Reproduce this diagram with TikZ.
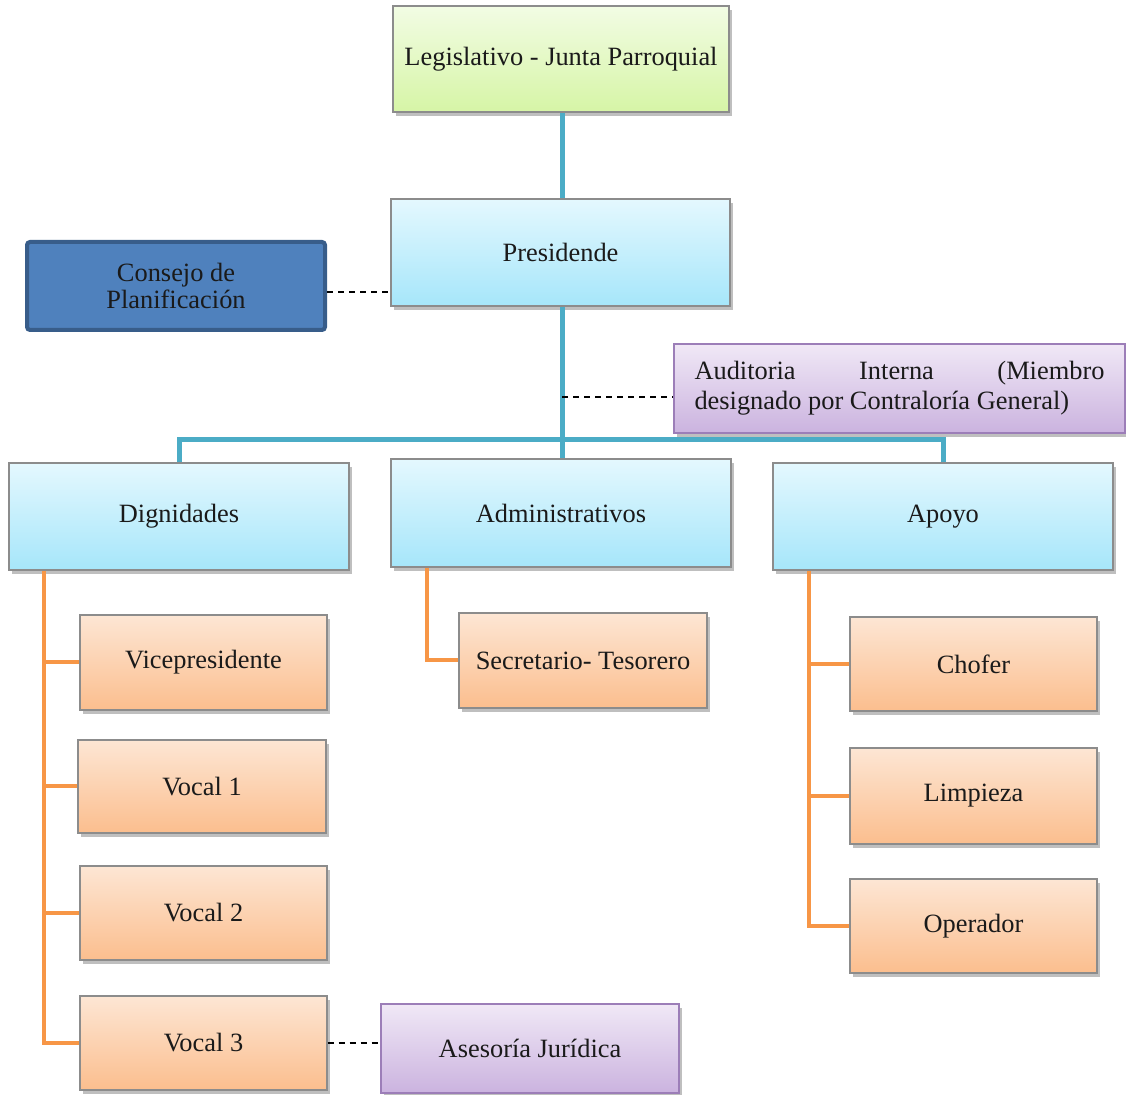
\documentclass[tikz,border=0pt]{standalone}
\usepackage{fontspec}
\setmainfont{Liberation Serif}
\usetikzlibrary{shadows}
\definecolor{linkblue}{HTML}{4BACC6}
\definecolor{linkorange}{HTML}{F79646}
\definecolor{boxgray}{HTML}{8C8C8C}
\definecolor{greentop}{HTML}{F2FCE4}
\definecolor{greenbot}{HTML}{D6F5A6}
\definecolor{bluetop}{HTML}{E4F8FE}
\definecolor{bluebot}{HTML}{A6E6FA}
\definecolor{orangetop}{HTML}{FDE6D4}
\definecolor{orangebot}{HTML}{FBBE8E}
\definecolor{purpletop}{HTML}{F0E8F6}
\definecolor{purplebot}{HTML}{CBB3DF}
\definecolor{purpleline}{HTML}{9C7EB8}
\definecolor{navyfill}{HTML}{4F81BD}
\definecolor{navyline}{HTML}{385D8A}
\definecolor{inktext}{HTML}{1A1A1A}
\tikzset{
  unitbox/.style={draw=boxgray, line width=0.6pt, align=center, inner sep=0pt,
    text=inktext, font=\fontsize{13.2pt}{15pt}\selectfont,
    drop shadow={shadow xshift=1.5pt, shadow yshift=-1.8pt, opacity=0.25, fill=black}},
  greenbox/.style={unitbox, top color=greentop, bottom color=greenbot},
  bluebox/.style={unitbox, top color=bluetop, bottom color=bluebot},
  orangebox/.style={unitbox, top color=orangetop, bottom color=orangebot},
  purplebox/.style={unitbox, draw=purpleline, top color=purpletop, bottom color=purplebot},
  navybox/.style={draw=navyline, line width=2pt, fill=navyfill, rounded corners=1.5pt,
    align=center, inner sep=0pt, text=inktext, font=\fontsize{13.2pt}{13.5pt}\selectfont},
  bluelink/.style={draw=linkblue, line width=2.5pt},
  orangelink/.style={draw=linkorange, line width=2pt},
  dashlink/.style={draw=black, line width=0.7pt, dash pattern=on 3pt off 2.5pt},
}
\begin{document}
\begin{tikzpicture}[x=0.5pt, y=-0.5pt]
\useasboundingbox (0,0) rectangle (1126,1095);

% upper levels
\node[greenbox, minimum width=168pt, minimum height=53pt] (leg) at (561,59) {Legislativo - Junta Parroquial};
\node[bluebox, minimum width=169.5pt, minimum height=53.5pt] (pres) at (560.5,252.5) {Presidende};
\node[navybox, minimum width=149pt, minimum height=44pt] (cons) at (176,286) {Consejo de\\Planificación};
\node[purplebox, minimum width=225.5pt, minimum height=44.5pt] (aud) at (899.5,388.5)
  {\parbox{205pt}{\hbox to 205pt{Auditoria\hfill Interna\hfill (Miembro}\hbox{designado por Contraloría General)}}};

% departments
\node[bluebox, minimum width=170pt, minimum height=53.5pt] (dig) at (179,516.5) {Dignidades};
\node[bluebox, minimum width=170pt, minimum height=54pt] (adm) at (561,513) {Administrativos};
\node[bluebox, minimum width=170pt, minimum height=53.5pt] (apo) at (943,516.5) {Apoyo};

% positions
\node[orangebox, minimum width=123.5pt, minimum height=47.5pt] (vice) at (203.5,662.5) {Vicepresidente};
\node[orangebox, minimum width=124pt, minimum height=46.5pt] (vA) at (202,786.5) {Vocal 1};
\node[orangebox, minimum width=123.5pt, minimum height=47pt] (vB) at (203.5,913) {Vocal 2};
\node[orangebox, minimum width=123.5pt, minimum height=47pt] (vC) at (203.5,1043) {Vocal 3};
\node[purplebox, minimum width=149pt, minimum height=44.5pt] (ases) at (530,1048.5) {Asesoría Jurídica};
\node[orangebox, minimum width=124pt, minimum height=47.5pt] (sec) at (583,660.5) {Secretario- Tesorero};
\node[orangebox, minimum width=123.5pt, minimum height=47pt] (chof) at (973.5,664) {Chofer};
\node[orangebox, minimum width=123.5pt, minimum height=48pt] (limp) at (973.5,796) {Limpieza};
\node[orangebox, minimum width=123.5pt, minimum height=47pt] (oper) at (973.5,926) {Operador};

% main hierarchy
\coordinate (bus) at (562,440);
\coordinate (audjoin) at (562,397);
\path[bluelink] (leg.south -| bus) -- (pres.north -| bus);
\path[bluelink] (pres.south -| bus) -- (bus);
\path[bluelink] (dig.north) |- (bus) -| (apo.north);
\path[bluelink] (bus) -- (bus |- adm.north);

% staff links
\coordinate (consjoin) at ([yshift=-3pt]cons.east);
\path[dashlink] (consjoin) -- (consjoin -| pres.west);
\path[dashlink] (audjoin) -- (audjoin -| aud.west);
\path[dashlink] (vC.east) -- (vC.east -| ases.west);

% branches
\coordinate (digtrunk) at ([xshift=18pt]dig.south west);
\path[orangelink] (digtrunk) |- (vC.west);
\foreach \n in {vice,vA,vB} \path[orangelink] (digtrunk |- \n.west) -- (\n.west);
\coordinate (admtrunk) at ([xshift=18.5pt]adm.south west);
\path[orangelink] (admtrunk) |- (sec.west);
\coordinate (apotrunk) at ([xshift=18.5pt]apo.south west);
\path[orangelink] (apotrunk) |- (oper.west);
\foreach \n in {chof,limp} \path[orangelink] (apotrunk |- \n.west) -- (\n.west);
\end{tikzpicture}
\end{document}
